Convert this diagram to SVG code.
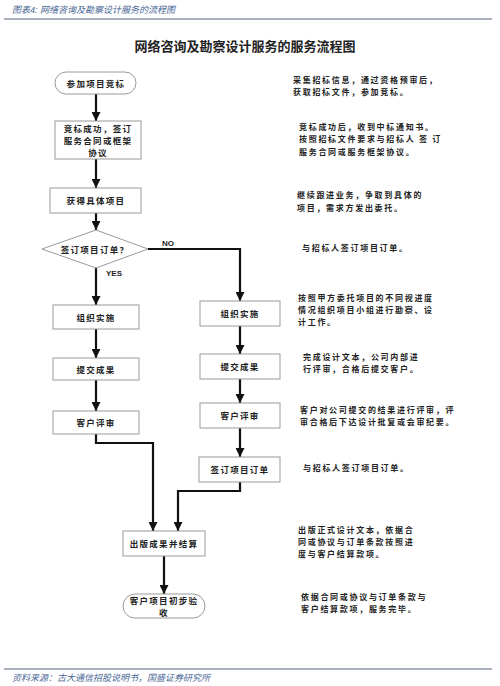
<svg xmlns="http://www.w3.org/2000/svg" width="500" height="686" viewBox="0 0 500 686">
<style>
.hdr{font-family:"Liberation Sans","Noto Sans CJK SC",sans-serif;font-size:9px;font-style:italic;fill:#4a6896}
.title{font-family:"Noto Sans CJK SC",sans-serif;font-size:13px;font-weight:700;fill:#222;text-anchor:middle}
.box{fill:#fff;stroke:#9a9a9a;stroke-width:1}
.bt{font-family:"Noto Sans CJK SC",sans-serif;font-size:8.5px;font-weight:700;fill:#222;text-anchor:middle;letter-spacing:1.3px}
.desc{font-family:"Noto Sans CJK SC",sans-serif;font-size:8px;font-weight:700;fill:#222;letter-spacing:1.7px}
.lab{font-family:"Liberation Sans",sans-serif;font-size:8px;font-weight:700;fill:#222}
.con{fill:none;stroke:#111;stroke-width:2.2}
.rule{stroke:#8a96a6;stroke-width:1.5}
</style>
<defs>
<marker id="ah" viewBox="0 0 10 10" refX="10" refY="5" markerWidth="9" markerHeight="9" markerUnits="userSpaceOnUse" orient="auto">
<path d="M0,0 L10,5 L0,10 z" fill="#111"/>
</marker>
</defs>
<rect width="500" height="686" fill="#fff"/>
<text class="hdr" x="12" y="13">图表4:  网络咨询及勘察设计服务的流程图</text>
<line class="rule" x1="4" y1="19" x2="492" y2="19"/>
<text class="title" x="245" y="51">网络咨询及勘察设计服务的服务流程图</text>

<g id="connectors">
<line class="con" x1="96" y1="94" x2="96" y2="121" marker-end="url(#ah)"/>
<line class="con" x1="96" y1="159" x2="96" y2="188" marker-end="url(#ah)"/>
<line class="con" x1="96" y1="213" x2="96" y2="230" marker-end="url(#ah)"/>
<line class="con" x1="96" y1="268" x2="96" y2="305" marker-end="url(#ah)"/>
<polyline class="con" points="148,249 240,249 240,301" marker-end="url(#ah)"/>
<line class="con" x1="96" y1="329" x2="96" y2="358" marker-end="url(#ah)"/>
<line class="con" x1="96" y1="380" x2="96" y2="411" marker-end="url(#ah)"/>
<line class="con" x1="240" y1="326" x2="240" y2="354" marker-end="url(#ah)"/>
<line class="con" x1="240" y1="379" x2="240" y2="403" marker-end="url(#ah)"/>
<line class="con" x1="240" y1="428" x2="240" y2="457" marker-end="url(#ah)"/>
<polyline class="con" points="96,434 96,443 153,443 153,531" marker-end="url(#ah)"/>
<polyline class="con" points="240,482 240,491 178,491 178,531" marker-end="url(#ah)"/>
<line class="con" x1="164" y1="556" x2="164" y2="594" marker-end="url(#ah)"/>
<text class="lab" x="162" y="246">NO</text>
<text class="lab" x="106" y="276">YES</text>
</g>

<g id="n_start"><rect class="box" x="55" y="72" width="81" height="22" rx="11"/><text class="bt" x="96" y="86.5">参加项目竞标</text></g>
<g id="n_contract"><rect class="box" x="55" y="121" width="86" height="38"/><text class="bt" x="98" y="131.5">竞标成功，签订</text><text class="bt" x="98" y="143.5">服务合同或框架</text><text class="bt" x="98" y="155.5">协议</text></g>
<g id="n_obtain"><rect class="box" x="50" y="188" width="91" height="25"/><text class="bt" x="96" y="204">获得具体项目</text></g>
<g id="n_decision"><polygon class="box" points="96,230 148,249 96,268 42,249"/><text class="bt" x="95" y="252.5">签订项目订单？</text></g>
<g id="n_org_l"><rect class="box" x="53" y="305" width="86" height="24"/><text class="bt" x="96" y="320.5">组织实施</text></g>
<g id="n_submit_l"><rect class="box" x="53" y="358" width="86" height="22"/><text class="bt" x="96" y="372.5">提交成果</text></g>
<g id="n_review_l"><rect class="box" x="53" y="411" width="86" height="23"/><text class="bt" x="96" y="425.5">客户评审</text></g>
<g id="n_org_r"><rect class="box" x="200" y="301" width="80" height="25"/><text class="bt" x="240" y="317">组织实施</text></g>
<g id="n_submit_r"><rect class="box" x="200" y="354" width="80" height="25"/><text class="bt" x="240" y="370">提交成果</text></g>
<g id="n_review_r"><rect class="box" x="200" y="403" width="80" height="25"/><text class="bt" x="240" y="419">客户评审</text></g>
<g id="n_sign_r"><rect class="box" x="199" y="457" width="81" height="25"/><text class="bt" x="240" y="473">签订项目订单</text></g>
<g id="n_publish"><rect class="box" x="123" y="531" width="82" height="25"/><text class="bt" x="164" y="547">出版成果并结算</text></g>
<g id="n_accept"><rect class="box" x="123" y="594" width="82" height="24" rx="12"/><text class="bt" x="164" y="603.5">客户项目初步验</text><text class="bt" x="164" y="615.5">收</text></g>

<g id="descriptions">
<text class="desc" x="293" y="83">采集招标信息，通过资格预审后，</text>
<text class="desc" x="293" y="95">获取招标文件，参加竞标。</text>
<text class="desc" x="299" y="130">竞标成功后，收到中标通知书。</text>
<text class="desc" x="299" y="142">按照招标文件要求与招标人 签 订</text>
<text class="desc" x="299" y="155">服务合同或服务框架协议。</text>
<text class="desc" x="297" y="198">继续跟进业务，争取到具体的</text>
<text class="desc" x="297" y="211">项目，需求方发出委托。</text>
<text class="desc" x="302" y="251">与招标人签订项目订单。</text>
<text class="desc" x="298" y="301">按照甲方委托项目的不同视进度</text>
<text class="desc" x="298" y="313">情况组织项目小组进行勘察、设</text>
<text class="desc" x="298" y="325">计工作。</text>
<text class="desc" x="303" y="360">完成设计文本，公司内部进</text>
<text class="desc" x="303" y="372">行评审，合格后提交客户。</text>
<text class="desc" x="300" y="413">客户对公司提交的结果进行评审，评</text>
<text class="desc" x="300" y="425">审合格后下达设计批复或会审纪要。</text>
<text class="desc" x="303" y="471">与招标人签订项目订单。</text>
<text class="desc" x="298" y="533">出版正式设计文本，依据合</text>
<text class="desc" x="298" y="545">同或协议与订单条款按照进</text>
<text class="desc" x="298" y="557">度与客户结算款项。</text>
<text class="desc" x="301" y="600">依据合同或协议与订单条款与</text>
<text class="desc" x="301" y="612">客户结算款项，服务完毕。</text>
</g>

<line class="rule" x1="4" y1="669" x2="492" y2="669"/>
<text class="hdr" x="12" y="681">资料来源：古大通信招股说明书，国盛证券研究所</text>
</svg>
